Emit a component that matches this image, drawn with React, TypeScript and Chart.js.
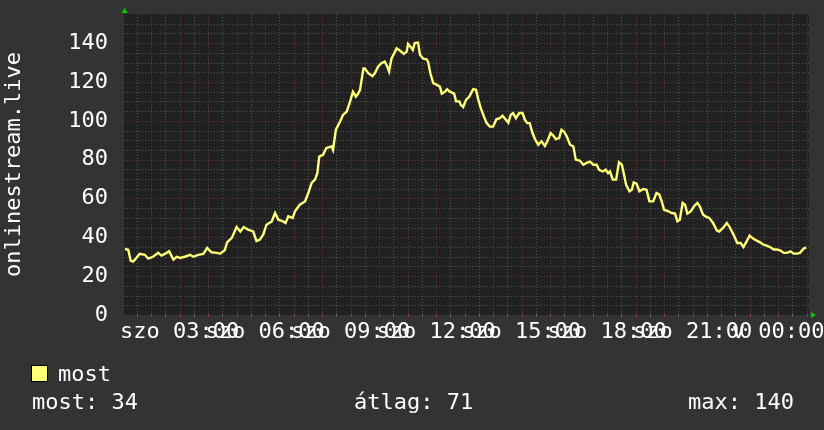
import React, { useEffect, useRef } from "react";
import { Chart, registerables } from "chart.js";

Chart.register(...registerables);

// time of each sample, minutes since "szo 00:00"
const timeMinutes = [
  65, 72, 77, 82, 86, 96, 107, 114, 124, 135, 142, 153, 158, 167, 174, 181, 191, 202, 209, 219,
  230, 238, 247, 258, 265, 275, 280, 290, 300, 308, 315, 324, 335, 342, 349, 356, 363, 374, 381, 388,
  398, 403, 409, 418, 423, 433, 444, 451, 458, 465, 470, 474, 482, 489, 500, 503, 509, 518, 524, 532,
  539, 545, 551, 556, 560, 567, 570, 577, 586, 591, 598, 605, 612, 617, 621, 626, 630, 637, 647, 652,
  658, 661, 666, 671, 675, 682, 686, 693, 700, 703, 708, 714, 722, 728, 732, 739, 743, 749, 758, 762,
  769, 772, 777, 783, 790, 798, 804, 809, 814, 821, 826, 833, 840, 847, 854, 860, 867, 872, 877, 882,
  888, 895, 902, 907, 912, 917, 923, 928, 935, 942, 949, 954, 961, 967, 972, 979, 984, 989, 995, 1002,
  1009, 1014, 1023, 1030, 1037, 1044, 1051, 1058, 1063, 1071, 1077, 1082, 1086, 1092, 1099, 1105, 1111, 1115, 1120, 1127,
  1132, 1136, 1142, 1148, 1156, 1163, 1169, 1177, 1184, 1190, 1195, 1200, 1209, 1216, 1223, 1228, 1233, 1239, 1244, 1249,
  1256, 1263, 1270, 1275, 1282, 1289, 1295, 1303, 1311, 1316, 1324, 1332, 1337, 1346, 1354, 1361, 1367, 1374, 1380, 1388,
  1395, 1402, 1409, 1416, 1423, 1431, 1438, 1445, 1452, 1459, 1466, 1473, 1480, 1486, 1493, 1499,
];

// "most" (current viewers) values
const viewers = [
  34, 33.6, 28, 27.5, 28.5, 31.5, 31, 29, 30, 32, 30.6, 32, 32.8, 28.5, 30, 29.4, 30, 31, 30, 31,
  31.5, 34.5, 32.3, 32, 31.6, 33.3, 37.4, 39.7, 45.3, 43, 45.3, 44, 43, 38, 38.8, 41.4, 46.5, 48.2, 52.5, 49,
  48.2, 47.4, 50.8, 50, 53.4, 56.8, 58.5, 62.8, 68, 69.7, 73, 81.6, 82.5, 86, 86.8, 85, 95.4, 99.6, 103, 104.8,
  110, 115, 112.5, 114, 116, 127, 127, 124.5, 123, 124.5, 128, 129.7, 130.5, 128, 125.4, 132, 133.9, 137.3, 135.6, 134.4,
  135.6, 139.6, 138.2, 136.5, 140, 140.3, 134, 132, 131.7, 130.5, 124.5, 119.4, 118.5, 117.6, 114, 115, 116.3, 115, 114, 110,
  110, 108.2, 107, 110.8, 112.5, 116.3, 116, 110.8, 106.5, 102, 99, 97, 97, 100.8, 101.4, 102.6, 100.5, 99, 103, 104,
  101.4, 104, 104, 100.5, 98.8, 98.8, 93.7, 90.6, 87.7, 89.4, 87, 89.4, 93.7, 92.3, 90.6, 91.1, 95.4, 94.5, 92, 87.7,
  86.8, 80, 79.4, 77.4, 78.3, 79, 77.4, 77.4, 74.8, 73.9, 74.8, 73, 73.9, 69.7, 69.7, 78.6, 77.4, 73, 67, 63.7,
  64.5, 68.3, 67.6, 63.7, 64.9, 64.5, 58.5, 58.5, 62.8, 62, 58.5, 54.2, 53.4, 52.5, 52.2, 48.2, 49, 57.7, 56.8, 52.2,
  53.4, 56, 57.7, 56, 51.7, 50.5, 50, 47.4, 43.5, 43, 44.8, 47.4, 45.7, 41.4, 37.1, 37.1, 35, 38, 40.9, 39.2,
  38.3, 37.4, 36.2, 35.7, 35, 33.7, 33.7, 33.2, 32, 32, 32.8, 31.6, 31.6, 32, 34, 34.9,
];

const yTicks = [0, 20, 40, 60, 80, 100, 120, 140];
const xLabelMinutes = [180, 360, 540, 720, 900, 1080, 1260, 1440];
const dayNames = ["szo", "v"];
const seriesName = "most";
const axisTitle = "onlinestream.live";
const statNames = ["most", "átlag", "max"];
const statValues = [34, 71, 140];

const X_MIN = 63;
const X_MAX = 1505;
const Y_MAX = 155;
const FONT = "DejaVu Sans Mono";
const LINE_COLOR = "#ffff78";

function xLabel(v: number): string {
  const day = v < 1440 ? dayNames[0] : dayNames[1];
  const hh = String(Math.floor(v / 60) % 24).padStart(2, "0");
  return `${day} ${hh}:00`;
}

function zeroPadding(scale: any) {
  scale.paddingTop = 0;
  scale.paddingBottom = 0;
  scale.paddingLeft = 0;
  scale.paddingRight = 0;
}

const MINOR = "#525252";
const MAJOR = "#6e3434";

const rrdPlugin = {
  id: "rrdLook",
  beforeDraw(chart: any) {
    const { ctx, chartArea: a, width, height } = chart;
    ctx.save();
    ctx.fillStyle = "#333333";
    ctx.fillRect(0, 0, width, height);
    ctx.fillStyle = "#212121";
    ctx.fillRect(a.left, a.top, a.right - a.left, a.bottom - a.top);
    ctx.restore();
  },
  beforeDatasetsDraw(chart: any) {
    const { ctx, chartArea: a, scales } = chart;
    const xs = scales.x;
    const ys = scales.y;
    ctx.save();
    ctx.lineWidth = 1;
    ctx.setLineDash([1, 2]);
    for (let m = Math.ceil(X_MIN / 30) * 30; m <= X_MAX; m += 30) {
      const major = m % 60 === 0;
      const px = Math.round(xs.getPixelForValue(m)) + 0.5;
      ctx.strokeStyle = major ? MAJOR : MINOR;
      ctx.beginPath();
      ctx.moveTo(px, a.top);
      ctx.lineTo(px, a.bottom);
      ctx.stroke();
    }
    for (let v = 5; v < Y_MAX; v += 5) {
      const major = v % 20 === 0;
      const py = Math.round(ys.getPixelForValue(v)) + 0.5;
      ctx.strokeStyle = major ? MAJOR : MINOR;
      ctx.beginPath();
      ctx.moveTo(a.left, py);
      ctx.lineTo(a.right, py);
      ctx.stroke();
    }
    ctx.setLineDash([]);
    for (let m = Math.ceil(X_MIN / 30) * 30; m <= X_MAX; m += 30) {
      const major = m % 60 === 0;
      const px = Math.round(xs.getPixelForValue(m)) + 0.5;
      ctx.strokeStyle = major ? "#8a3a3a" : "#606060";
      ctx.beginPath();
      ctx.moveTo(px, a.bottom - 2);
      ctx.lineTo(px, a.bottom + 2);
      ctx.stroke();
    }
    ctx.restore();
  },
  afterDraw(chart: any) {
    const { ctx, chartArea: a } = chart;
    ctx.save();
    ctx.fillStyle = "#00cc00";
    ctx.beginPath();
    ctx.moveTo(a.left - 2.5, a.top - 1);
    ctx.lineTo(a.left + 3.5, a.top - 1);
    ctx.lineTo(a.left + 0.5, a.top - 6);
    ctx.closePath();
    ctx.fill();
    ctx.beginPath();
    ctx.moveTo(a.right + 2, a.bottom - 3);
    ctx.lineTo(a.right + 2, a.bottom + 3);
    ctx.lineTo(a.right + 7, a.bottom);
    ctx.closePath();
    ctx.fill();

    ctx.fillStyle = "#ffffff";
    ctx.font = `22px "${FONT}"`;
    ctx.save();
    ctx.translate(19.5, (a.top + a.bottom) / 2);
    ctx.rotate(-Math.PI / 2);
    ctx.textAlign = "center";
    ctx.textBaseline = "alphabetic";
    ctx.fillText(axisTitle, 0, 0);
    ctx.restore();

    ctx.textAlign = "left";
    ctx.textBaseline = "alphabetic";
    ctx.fillStyle = LINE_COLOR;
    ctx.fillRect(32, 366, 15, 15);
    ctx.strokeStyle = "#000000";
    ctx.lineWidth = 1;
    ctx.strokeRect(31.5, 365.5, 16, 16);
    ctx.fillStyle = "#ffffff";
    ctx.fillText(seriesName, 58, 381);

    const statX = [32, 354, 688];
    statNames.forEach((n, i) => {
      ctx.fillText(`${n}: ${statValues[i]}`, statX[i], 409);
    });
    ctx.restore();
  },
};

export default function App() {
  const canvasRef = useRef<HTMLCanvasElement | null>(null);

  useEffect(() => {
    document.body.style.margin = "0";
    document.body.style.background = "#333333";
    const canvas = canvasRef.current;
    if (!canvas) return;
    const chart = new Chart(canvas, {
      type: "line",
      data: {
        datasets: [
          {
            label: seriesName,
            data: timeMinutes.map((t, i) => ({ x: t, y: viewers[i] })),
            borderColor: LINE_COLOR,
            borderWidth: 2.4,
            pointRadius: 0,
            tension: 0,
            fill: false,
          },
        ],
      },
      options: {
        animation: false,
        responsive: false,
        maintainAspectRatio: false,
        layout: { padding: { top: 14, right: 15, left: 0, bottom: 0 } },
        plugins: { legend: { display: false }, tooltip: { enabled: false }, title: { display: false } },
        scales: {
          x: {
            type: "linear",
            min: X_MIN,
            max: X_MAX,
            grid: { display: false, drawTicks: false },
            border: { display: false },
            afterBuildTicks: (scale: any) => {
              scale.ticks = xLabelMinutes.map((v) => ({ value: v }));
            },
            afterFit: (scale: any) => {
              scale.height = 115;
              zeroPadding(scale);
            },
            ticks: {
              autoSkip: false,
              maxRotation: 0,
              minRotation: 0,
              padding: 4,
              color: "#ffffff",
              font: { family: FONT, size: 22 },
              callback: (v: any) => xLabel(Number(v)),
            },
          },
          y: {
            type: "linear",
            min: 0,
            max: Y_MAX,
            grid: { display: false, drawTicks: false },
            border: { display: false },
            afterBuildTicks: (scale: any) => {
              scale.ticks = yTicks.map((v) => ({ value: v }));
            },
            afterFit: (scale: any) => {
              scale.width = 124;
              zeroPadding(scale);
            },
            ticks: {
              padding: 16,
              color: "#ffffff",
              font: { family: FONT, size: 22 },
              callback: (v: any) => String(v),
            },
          },
        },
      },
      plugins: [rrdPlugin],
    });
    return () => chart.destroy();
  }, []);

  return (
    <div style={{ width: 824, height: 430, background: "#333333" }}>
      <canvas ref={canvasRef} width={824} height={430} style={{ width: 824, height: 430, display: "block" }} />
    </div>
  );
}
